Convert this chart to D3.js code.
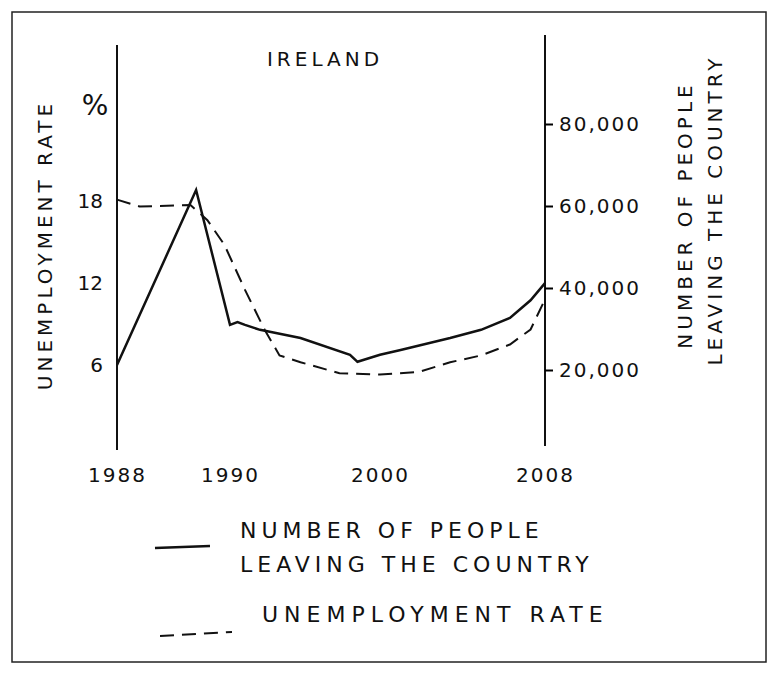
<!DOCTYPE html>
<html><head><meta charset="utf-8">
<script src="https://cdn.jsdelivr.net/npm/d3@7"></script>
<style>body{margin:0;background:#fff}svg text{font-family:"DejaVu Sans",sans-serif;fill:#111}</style>
</head><body><svg id="c" width="780" height="675"></svg>
<script>
'use strict';
// data
const yearTicks = [1988, 1990, 2000, 2008];
const leftTicks = [6, 12, 18];
const rightTicks = [20000, 40000, 60000, 80000];
const leavingYears = [1988, 1989.4, 1990, 1990.5, 1991, 1992, 1994.7, 1998, 1998.5, 2000, 2001, 2002, 2003.4, 2004.9, 2006.3, 2007.3, 2008];
const leavingVals = [21200, 63900, 31000, 31700, 31000, 29800, 27800, 23700, 22000, 23700, 24900, 26100, 27800, 29800, 32700, 37000, 41200];
const unempYears = [1988, 1988.4, 1989.3, 1989.6, 1989.9, 1991, 1992.3, 1993.3, 1994.7, 1997.3, 2000, 2001.9, 2003.4, 2004.9, 2006.3, 2007.3, 2008];
const unempVals = [18.1, 17.6, 17.7, 16.6, 14.8, 11.5, 8.6, 6.7, 6.2, 5.4, 5.3, 5.5, 6.2, 6.7, 7.5, 8.6, 10.8];

const svg = d3.select('#c');
svg.append('rect').attr('x', 12).attr('y', 12).attr('width', 754).attr('height', 650)
  .attr('fill', 'none').attr('stroke', '#222').attr('stroke-width', 1.5);

// hand-drawn x spacing is uneven, so piecewise scale
const x = d3.scaleLinear().domain(yearTicks).range([117, 230, 380, 545]);
const yL = d3.scaleLinear().domain([0, 18]).range([447, 201]);
const yR = d3.scaleLinear().domain([0, 80000]).range([452, 124]);

// axes
svg.append('line').attr('x1', 117).attr('x2', 117).attr('y1', 45).attr('y2', 450).attr('stroke', '#111').attr('stroke-width', 2);
svg.append('line').attr('x1', 545).attr('x2', 545).attr('y1', 35).attr('y2', 446).attr('stroke', '#111').attr('stroke-width', 2);

const left = svg.append('g').attr('transform', 'translate(117,0)')
  .call(d3.axisLeft(yL).tickValues(leftTicks).tickSize(0).tickPadding(14));
left.select('.domain').remove();
left.selectAll('text').style('font-size', '20px');

const right = svg.append('g').attr('transform', 'translate(545,0)')
  .call(d3.axisRight(yR).tickValues(rightTicks).tickSize(8).tickPadding(6)
    .tickFormat(d => d3.format(',')(d)));
right.select('.domain').remove();
right.selectAll('line').attr('stroke-width', 2);
right.selectAll('text').style('font-size', '20px').attr('letter-spacing', 2);

const bottom = svg.append('g').attr('transform', 'translate(0,450)')
  .call(d3.axisBottom(x).tickValues(yearTicks).tickSize(0).tickPadding(18).tickFormat(d3.format('d')));
bottom.select('.domain').remove();
bottom.selectAll('text').style('font-size', '20px').attr('letter-spacing', 2);

// lines
const lineR = d3.line().x(d => x(d[0])).y(d => yR(d[1]));
const lineL = d3.line().x(d => x(d[0])).y(d => yL(d[1]));
svg.append('path').datum(d3.zip(leavingYears, leavingVals)).attr('d', lineR)
  .attr('fill', 'none').attr('stroke', '#111').attr('stroke-width', 2.5);
svg.append('path').datum(d3.zip(unempYears, unempVals)).attr('d', lineL)
  .attr('fill', 'none').attr('stroke', '#111').attr('stroke-width', 2).attr('stroke-dasharray', '14,8');

// texts
svg.append('text').attr('x', 325).attr('y', 66).attr('text-anchor', 'middle')
  .style('font-size', '20px').attr('letter-spacing', 4).text('IRELAND');
svg.append('text').attr('x', 95).attr('y', 115).attr('text-anchor', 'middle')
  .style('font-size', '28px').text('%');
svg.append('text').attr('transform', 'translate(52,245) rotate(-90)').attr('text-anchor', 'middle')
  .style('font-size', '20px').attr('letter-spacing', 4).text('UNEMPLOYMENT RATE');
svg.append('text').attr('transform', 'translate(692,215) rotate(-90)').attr('text-anchor', 'middle')
  .style('font-size', '20px').attr('letter-spacing', 4).text('NUMBER OF PEOPLE');
svg.append('text').attr('transform', 'translate(722,210) rotate(-90)').attr('text-anchor', 'middle')
  .style('font-size', '20px').attr('letter-spacing', 4).text('LEAVING THE COUNTRY');

// legend
svg.append('line').attr('x1', 155).attr('x2', 210).attr('y1', 548).attr('y2', 546)
  .attr('stroke', '#111').attr('stroke-width', 2.5);
svg.append('text').attr('x', 240).attr('y', 538).style('font-size', '22px').attr('letter-spacing', 5)
  .text('NUMBER OF PEOPLE');
svg.append('text').attr('x', 240).attr('y', 572).style('font-size', '22px').attr('letter-spacing', 5)
  .text('LEAVING THE COUNTRY');
svg.append('line').attr('x1', 160).attr('x2', 232).attr('y1', 636).attr('y2', 632)
  .attr('stroke', '#111').attr('stroke-width', 2).attr('stroke-dasharray', '14,8');
svg.append('text').attr('x', 262).attr('y', 622).style('font-size', '22px').attr('letter-spacing', 6)
  .text('UNEMPLOYMENT RATE');
</script></body></html>
